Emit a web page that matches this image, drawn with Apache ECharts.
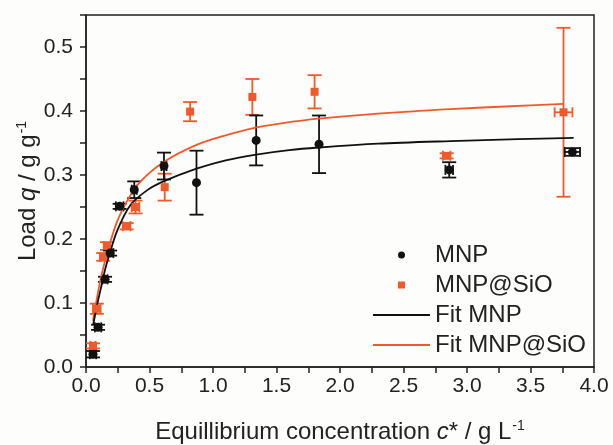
<!DOCTYPE html>
<html><head><meta charset="utf-8">
<script src="https://cdn.jsdelivr.net/npm/echarts@6/dist/echarts.min.js"></script>
<style>html,body{margin:0;padding:0;background:#fdfdfb}#c{width:613px;height:445px}</style>
</head><body><div id="c"></div>
<script>
// MNP data: x, y, y error, x error
const mnpX    = [0.055, 0.095, 0.15, 0.19, 0.265, 0.38, 0.614, 0.87, 1.34, 1.835, 2.86, 3.83];
const mnpY    = [0.020, 0.062, 0.137, 0.178, 0.251, 0.277, 0.314, 0.288, 0.354, 0.348, 0.308, 0.336];
const mnpYErr = [0.005, 0.004, 0.004, 0.004, 0.004, 0.013, 0.021, 0.050, 0.039, 0.045, 0.012, 0.006];
const mnpXErr = [0.025, 0.025, 0.02, 0.025, 0.03, 0.02, 0.02, 0, 0, 0, 0.03, 0.06];
// MNP@SiO data
const sioX    = [0.055, 0.085, 0.135, 0.165, 0.32, 0.39, 0.62, 0.82, 1.31, 1.80, 2.84, 3.76];
const sioY    = [0.033, 0.091, 0.172, 0.189, 0.220, 0.250, 0.281, 0.399, 0.422, 0.430, 0.330, 0.398];
const sioYErr = [0.004, 0.008, 0.006, 0.006, 0.005, 0.010, 0.021, 0.015, 0.028, 0.026, 0.004, 0.132];
const sioXErr = [0.02, 0.03, 0.025, 0.025, 0.03, 0.03, 0, 0, 0, 0, 0.03, 0.07];
// Fit curves
const fitMnpX = [0.057, 0.085, 0.116, 0.15, 0.18, 0.246, 0.35, 0.48, 0.61, 0.87, 1.1, 1.34, 1.6, 1.83, 2.3, 2.87, 3.4, 3.84];
const fitMnpY = [0.066, 0.095, 0.122, 0.152, 0.173, 0.213, 0.253, 0.276, 0.290, 0.310, 0.323, 0.332, 0.339, 0.343, 0.349, 0.353, 0.356, 0.358];
const fitSioX = [0.055, 0.09, 0.116, 0.15, 0.18, 0.246, 0.325, 0.43, 0.61, 0.87, 1.1, 1.31, 1.55, 1.83, 2.3, 2.87, 3.3, 3.76];
const fitSioY = [0.072, 0.112, 0.138, 0.166, 0.188, 0.228, 0.260, 0.290, 0.320, 0.347, 0.362, 0.373, 0.381, 0.388, 0.396, 0.403, 0.407, 0.411];
// Axis ticks
const xTicks = [0, 0.5, 1.0, 1.5, 2.0, 2.5, 3.0, 3.5, 4.0];
const yTicks = [0, 0.1, 0.2, 0.3, 0.4, 0.5];

const BLACK = '#111111';
const ORANGE = '#ef5a2c';
const AXIS = '#222222';
const FONT = 'Liberation Sans';

function zip(a, b) { return a.map((v, i) => [v, b[i]]); }
function errData(x, y, ye, xe) { return x.map((v, i) => [v, y[i], ye[i], xe[i]]); }

function errRender(color) {
  return function (params, api) {
    const x = api.value(0), y = api.value(1), ye = api.value(2), xe = api.value(3);
    const top = api.coord([x, y + ye]);
    const bot = api.coord([x, y - ye]);
    const cap = 7;
    const st = { stroke: color, lineWidth: 1.8 };
    const children = [
      { type: 'line', shape: { x1: top[0], y1: top[1], x2: bot[0], y2: bot[1] }, style: st },
      { type: 'line', shape: { x1: top[0] - cap, y1: top[1], x2: top[0] + cap, y2: top[1] }, style: st },
      { type: 'line', shape: { x1: bot[0] - cap, y1: bot[1], x2: bot[0] + cap, y2: bot[1] }, style: st }
    ];
    if (xe > 0) {
      const l = api.coord([x - xe, y]);
      const r = api.coord([x + xe, y]);
      const hc = 5;
      children.push(
        { type: 'line', shape: { x1: l[0], y1: l[1], x2: r[0], y2: r[1] }, style: st },
        { type: 'line', shape: { x1: l[0], y1: l[1] - hc, x2: l[0], y2: l[1] + hc }, style: st },
        { type: 'line', shape: { x1: r[0], y1: r[1] - hc, x2: r[0], y2: r[1] + hc }, style: st }
      );
    }
    return { type: 'group', children };
  };
}

const chart = echarts.init(document.getElementById('c'), null, { renderer: 'canvas' });
const titleRich = {
  a: { fontFamily: FONT, fontSize: 24, color: AXIS },
  i: { fontFamily: FONT, fontSize: 24, color: AXIS, fontStyle: 'italic' },
  s: { fontFamily: FONT, fontSize: 14, color: AXIS, verticalAlign: 'top', padding: [0, 0, 12, 1] }
};
chart.setOption({
  backgroundColor: '#fdfdfb',
  animation: false,
  textStyle: { fontFamily: FONT },
  grid: { left: 86, right: 19, top: 15, bottom: 78, show: true, borderColor: AXIS, borderWidth: 1.5,
    backgroundColor: 'transparent', containLabel: false, outerBoundsMode: 'none' },
  xAxis: {
    type: 'value', min: 0, max: 4, interval: 0.5,
    axisLine: { show: true, onZero: false, lineStyle: { color: AXIS, width: 1.5 } },
    axisTick: { show: true, inside: false, length: 6, lineStyle: { color: AXIS, width: 1.5 } },
    minorTick: { show: true, splitNumber: 2, length: 6, lineStyle: { color: AXIS, width: 1.5 } },
    splitLine: { show: false },
    axisLabel: { fontFamily: FONT, fontSize: 21, color: AXIS, margin: 9,
      formatter: v => xTicks.some(t => Math.abs(t - v) < 1e-9) ? v.toFixed(1) : '' },
    name: '{a|Equillibrium concentration }{i|c}{a|* / g L}{s|-1}',
    nameLocation: 'middle', nameGap: 52, nameMoveOverlap: false,
    nameTextStyle: { rich: titleRich }
  },
  yAxis: {
    type: 'value', min: 0, max: 0.55, interval: 0.1,
    axisLine: { show: true, onZero: false, lineStyle: { color: AXIS, width: 1.5 } },
    axisTick: { show: true, inside: false, length: 6, lineStyle: { color: AXIS, width: 1.5 } },
    minorTick: { show: true, splitNumber: 2, length: 6, lineStyle: { color: AXIS, width: 1.5 } },
    splitLine: { show: false },
    axisLabel: { fontFamily: FONT, fontSize: 21, color: AXIS, margin: 13,
      formatter: v => yTicks.some(t => Math.abs(t - v) < 1e-9) ? v.toFixed(1) : '' },
    name: '{a|Load }{i|q}{a| / g g}{s|-1}',
    nameLocation: 'middle', nameGap: 45, nameRotate: 90, nameMoveOverlap: false,
    nameTextStyle: { rich: titleRich }
  },
  legend: {
    orient: 'vertical', left: 368, top: 238, itemWidth: 57, itemHeight: 7, itemGap: 6,
    itemStyle: { borderWidth: 0 },
    textStyle: { fontFamily: FONT, fontSize: 24, lineHeight: 24, color: AXIS },
    data: [
      { name: 'MNP', icon: 'circle' },
      { name: 'MNP@SiO', icon: 'path://M0,0H1V1H0Z' },
      { name: 'Fit MNP', icon: 'path://M0,0H57V1.8H0Z' },
      { name: 'Fit MNP@SiO', icon: 'path://M0,0H57V1.8H0Z' }
    ]
  },
  series: [
    { name: 'MNP@SiO err', type: 'custom', renderItem: errRender(ORANGE), data: errData(sioX, sioY, sioYErr, sioXErr), encode: { x: 0, y: 1 }, z: 2 },
    { name: 'MNP err', type: 'custom', renderItem: errRender(BLACK), data: errData(mnpX, mnpY, mnpYErr, mnpXErr), encode: { x: 0, y: 1 }, z: 3 },
    { name: 'Fit MNP@SiO', type: 'line', data: zip(fitSioX, fitSioY), smooth: 0.3, showSymbol: false, symbol: 'none', lineStyle: { color: ORANGE, width: 1.8 }, itemStyle: { color: ORANGE }, z: 4 },
    { name: 'Fit MNP', type: 'line', data: zip(fitMnpX, fitMnpY), smooth: 0.3, showSymbol: false, symbol: 'none', lineStyle: { color: BLACK, width: 1.8 }, itemStyle: { color: BLACK }, z: 4 },
    { name: 'MNP@SiO', type: 'scatter', symbol: 'rect', symbolSize: 8, data: zip(sioX, sioY), itemStyle: { color: ORANGE, opacity: 1 }, z: 5 },
    { name: 'MNP', type: 'scatter', symbol: 'circle', symbolSize: 9, data: zip(mnpX, mnpY), itemStyle: { color: BLACK, opacity: 1 }, z: 6 }
  ]
});
</script></body></html>
